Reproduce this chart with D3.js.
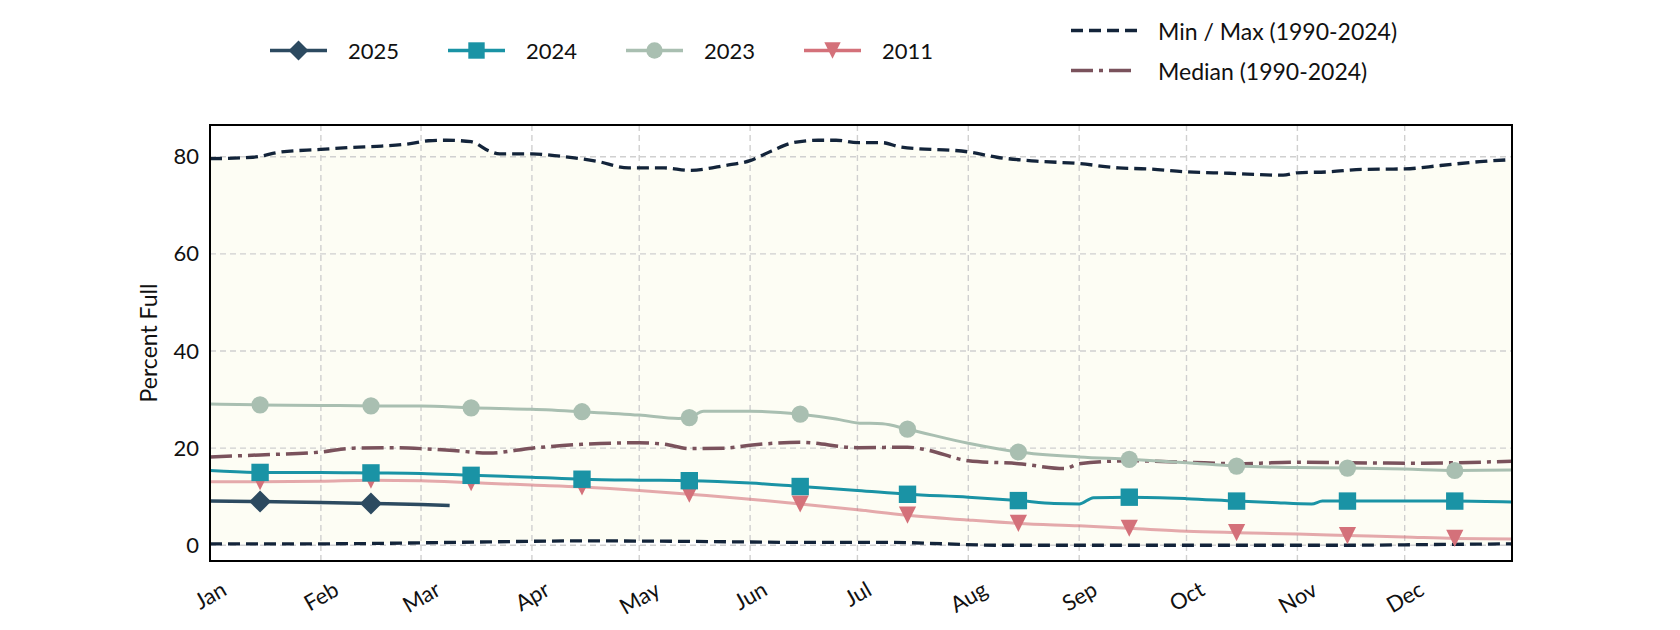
<!DOCTYPE html>
<html><head><meta charset="utf-8">
<script src="https://cdn.jsdelivr.net/npm/d3@7"></script>
<style>
body{margin:0;background:#fff}
text{font-family:Lato,"Open Sans",sans-serif;fill:#111}
</style>
</head><body>
<svg id="chart" width="1680" height="630"></svg>
<script>
// ---------------- DATA ----------------
const monthLabels = ["Jan","Feb","Mar","Apr","May","Jun","Jul","Aug","Sep","Oct","Nov","Dec"];
const yTicks = [0, 20, 40, 60, 80];

const maxSeries = [
  ["01-01",79.6],["01-13",79.9],["01-21",81.0],["02-01",81.5],["02-09",81.9],["02-18",82.2],
  ["02-26",82.7],["03-03",83.3],["03-08",83.4],["03-15",83.1],["03-20",81.2],["03-23",80.6],
  ["04-01",80.6],["04-09",80.1],["04-19",79.1],["04-28",77.7],["05-08",77.7],["05-15",77.2],
  ["05-25",78.2],["06-01",79.2],["06-07",81.2],["06-13",82.9],["06-20",83.4],["06-25",83.4],
  ["07-01",82.9],["07-08",82.9],["07-13",82.0],["08-01",81.0],["08-09",79.9],["08-20",79.1],
  ["09-01",78.6],["09-12",77.7],["09-20",77.5],["10-01",76.9],["10-13",76.6],["10-28",76.2],
  ["11-01",76.7],["11-10",76.9],["11-19",77.4],["12-01",77.5],["12-11",78.2],["12-22",79.0],
  ["12-31",79.4]
];
const minSeries = [
  ["01-01",0.3],["02-01",0.3],["03-01",0.5],["03-20",0.7],["04-15",0.9],["05-15",0.8],
  ["06-15",0.6],["07-10",0.6],["07-25",0.3],["08-10",0.0],["09-15",0.0],["10-15",0.0],
  ["11-15",0.0],["12-01",0.1],["12-31",0.3]
];
const medianSeries = [
  ["01-01",18.2],["01-15",18.6],["02-01",19.2],["02-10",20.0],["02-20",20.1],["03-01",19.9],
  ["03-10",19.5],["03-20",19.0],["04-01",20.0],["04-15",20.8],["05-01",21.1],["05-08",20.8],
  ["05-15",19.9],["05-25",20.0],["06-01",20.6],["06-15",21.2],["07-01",20.1],["07-15",20.2],
  ["07-20",19.7],["08-01",17.4],["08-15",16.8],["08-28",15.8],["09-01",16.8],["09-15",17.4],
  ["10-01",17.1],["10-15",16.8],["11-01",17.1],["11-15",17.0],["12-01",16.9],["12-15",17.0],
  ["12-31",17.3]
];
const series2023 = [
  ["01-01",29.1],["01-15",28.9],["02-01",28.8],["02-15",28.7],["03-01",28.7],["03-15",28.3],
  ["04-01",28.0],["04-15",27.5],["05-01",26.8],["05-12",26.1],["05-15",26.3],["05-19",27.6],
  ["06-01",27.6],["06-15",27.0],["06-25",26.0],["07-01",25.2],["07-08",25.0],["07-15",23.9],
  ["08-01",21.0],["08-15",19.2],["09-01",18.2],["09-15",17.7],["10-01",17.0],["10-15",16.3],
  ["11-01",16.0],["11-15",15.9],["12-01",15.7],["12-15",15.4],["12-31",15.5]
];
const series2024 = [
  ["01-01",15.4],["01-15",15.0],["02-01",15.0],["02-15",14.9],["03-01",14.8],["03-15",14.4],
  ["04-01",14.0],["04-15",13.6],["05-01",13.4],["05-15",13.3],["06-01",12.8],["06-15",12.1],
  ["07-01",11.3],["07-15",10.5],["08-01",9.9],["08-15",9.2],["08-25",8.6],["09-01",8.5],
  ["09-05",9.8],["09-15",9.9],["10-01",9.6],["10-15",9.1],["10-25",8.8],["11-05",8.5],
  ["11-08",9.1],["11-15",9.1],["12-01",9.1],["12-15",9.1],["12-31",8.9]
];
const series2011 = [
  ["01-01",13.1],["01-15",13.1],["02-01",13.2],["02-15",13.4],["03-01",13.3],["03-15",12.9],
  ["04-01",12.4],["04-15",12.0],["05-01",11.3],["05-15",10.5],["06-01",9.5],["06-15",8.5],
  ["07-01",7.3],["07-15",6.2],["08-01",5.2],["08-15",4.5],["09-01",4.0],["09-15",3.5],
  ["10-01",2.9],["10-15",2.6],["11-01",2.3],["11-15",2.0],["12-01",1.7],["12-15",1.4],
  ["12-31",1.3]
];
const series2025 = [
  ["01-01",9.1],["01-15",9.0],["02-01",8.8],["02-15",8.6],["03-01",8.4],["03-09",8.2]
];

const yearNames = ["2025","2024","2023","2011"];
const refNames = ["Min / Max (1990-2024)","Median (1990-2024)"];

// ---------------- SETUP ----------------
const parse = d3.timeParse("%m-%d");
const toPts = s => s.map(([d,v]) => ({date: parse(d), value: v}));

const L = 210, R = 1512, T = 125, B = 561;
const x = d3.scaleTime().domain([parse("01-01"), parse("12-31")]).range([L, R]);
const y = d3.scaleLinear().domain([-3.24, 86.54]).range([B, T]);

const svg = d3.select("#chart");
svg.append("defs").append("clipPath").attr("id","clip")
  .append("rect").attr("x",L).attr("y",T).attr("width",R-L).attr("height",B-T);

const curve = d3.curveMonotoneX;
const line = d3.line().x(d=>x(d.date)).y(d=>y(d.value)).curve(curve);

const maxPts = toPts(maxSeries), minPts = toPts(minSeries);
const gPlot = svg.append("g").attr("clip-path","url(#clip)");
// Fill area between min and max
const fillPath = (() => {
  const top = line(maxPts);
  const bot = line(minPts.slice().reverse());
  return top + "L" + bot.slice(1) + "Z";
})();
gPlot.append("path").attr("d", fillPath).attr("fill","#fdfdf4");

// grid
const monthDates = monthLabels.map((m,i)=>new Date(1900, i, 1));
const grid = svg.append("g");
grid.selectAll("line.gx").data(monthDates).join("line")
  .attr("x1",d=>x(d)).attr("x2",d=>x(d)).attr("y1",T).attr("y2",B)
  .attr("stroke","#d0d0d0").attr("stroke-width",1.4).attr("stroke-dasharray","6,4");
grid.selectAll("line.gy").data(yTicks).join("line")
  .attr("x1",L).attr("x2",R).attr("y1",d=>y(d)).attr("y2",d=>y(d))
  .attr("stroke","#d0d0d0").attr("stroke-width",1.4).attr("stroke-dasharray","6,4");

const C = {
  "2025":"#2c4a60", "2024":"#1a93a5", "2023":"#a9bfb1", "2011":"#d4717a",
  median:"#7a525c", minmax:"#13243a"
};

const lines = svg.append("g").attr("clip-path","url(#clip)");
// min / max
[maxPts, minPts].forEach(p => lines.append("path").attr("d", line(p))
  .attr("fill","none").attr("stroke",C.minmax).attr("stroke-width",3.3)
  .attr("stroke-dasharray","12,6"));
// median
lines.append("path").attr("d", line(toPts(medianSeries)))
  .attr("fill","none").attr("stroke",C.median).attr("stroke-width",3.5)
  .attr("stroke-dasharray","22,6,4,6");

// marker shapes
const shapes = {
  "2025": s => `M0,${-s}L${s},0L0,${s}L${-s},0Z`,
  "2024": s => `M${-s},${-s}H${s}V${s}H${-s}Z`,
  "2023": s => `M${-s},0A${s},${s} 0 1,0 ${s},0A${s},${s} 0 1,0 ${-s},0Z`,
  "2011": s => `M${-s},${-s}L${s},${-s}L0,${s}Z`
};
const msize = {"2025":11, "2024":8.7, "2023":8.6, "2011":8.6};

const yearData = {"2011":series2011, "2023":series2023, "2024":series2024, "2025":series2025};
["2011","2023","2024","2025"].forEach(name => {
  const pts = toPts(yearData[name]);
  const g = lines.append("g");
  g.append("path").attr("d", line(pts)).attr("fill","none")
    .attr("stroke", C[name]).attr("stroke-width", name==="2025" ? 3.4 : 3)
    .attr("stroke-opacity", name==="2011" ? 0.6 : 1);
  g.selectAll("path.m").data(pts.filter(p=>p.date.getDate()===15)).join("path")
    .attr("class","m")
    .attr("transform", d=>`translate(${x(d.date)},${y(d.value)})`)
    .attr("d", shapes[name](msize[name])).attr("fill", C[name]);
});

// frame
svg.append("rect").attr("x",L).attr("y",T).attr("width",R-L).attr("height",B-T)
  .attr("fill","none").attr("stroke","#000").attr("stroke-width",2);

// y axis
const yAxis = svg.append("g").attr("transform",`translate(${L},0)`)
  .call(d3.axisLeft(y).tickValues(yTicks).tickSize(0).tickPadding(11));
yAxis.select(".domain").remove();
yAxis.selectAll("text").style("font-family","Lato").style("font-size","22px").attr("fill","#111");

// x axis labels
const xg = svg.append("g");
xg.selectAll("text").data(monthDates).join("text")
  .text((d,i)=>monthLabels[i])
  .attr("text-anchor","middle").attr("dominant-baseline","central")
  .style("font-size","22px")
  .each(function(d){
    const bb = this.getBBox();
    const h = bb.width*0.5 + bb.height*0.866;
    d3.select(this).attr("transform",`translate(${x(d)},${575 + h/2}) rotate(-30)`);
  });

// y label
svg.append("text").text("Percent Full")
  .attr("transform",`translate(157,343) rotate(-90)`)
  .attr("text-anchor","middle").style("font-size","23px");

// legend (years)
const lg = svg.append("g");
yearNames.forEach((name,i) => {
  const x0 = 270 + i*178, yc = 50.5;
  lg.append("line").attr("x1",x0).attr("x2",x0+57).attr("y1",yc).attr("y2",yc)
    .attr("stroke",C[name]).attr("stroke-width",3.3);
  lg.append("path").attr("transform",`translate(${x0+28.5},${yc})`)
    .attr("d", shapes[name](name==="2025"?10:8.2)).attr("fill",C[name]);
  lg.append("text").text(name).attr("x",x0+78).attr("y",yc)
    .attr("dominant-baseline","central").style("font-size","22px");
});
// legend (reference)
const refStyles = [
  {stroke:C.minmax, dash:"12,6", w:3.4, yc:30.5},
  {stroke:C.median, dash:"22,6,4,6", w:3.6, yc:70.5}
];
refNames.forEach((name,i) => {
  const s = refStyles[i];
  lg.append("line").attr("x1",1071).attr("x2",1137).attr("y1",s.yc).attr("y2",s.yc)
    .attr("stroke",s.stroke).attr("stroke-width",s.w).attr("stroke-dasharray",s.dash);
  lg.append("text").text(name).attr("x",1158).attr("y",s.yc)
    .attr("dominant-baseline","central").style("font-size","23px");
});
</script>
</body></html>
